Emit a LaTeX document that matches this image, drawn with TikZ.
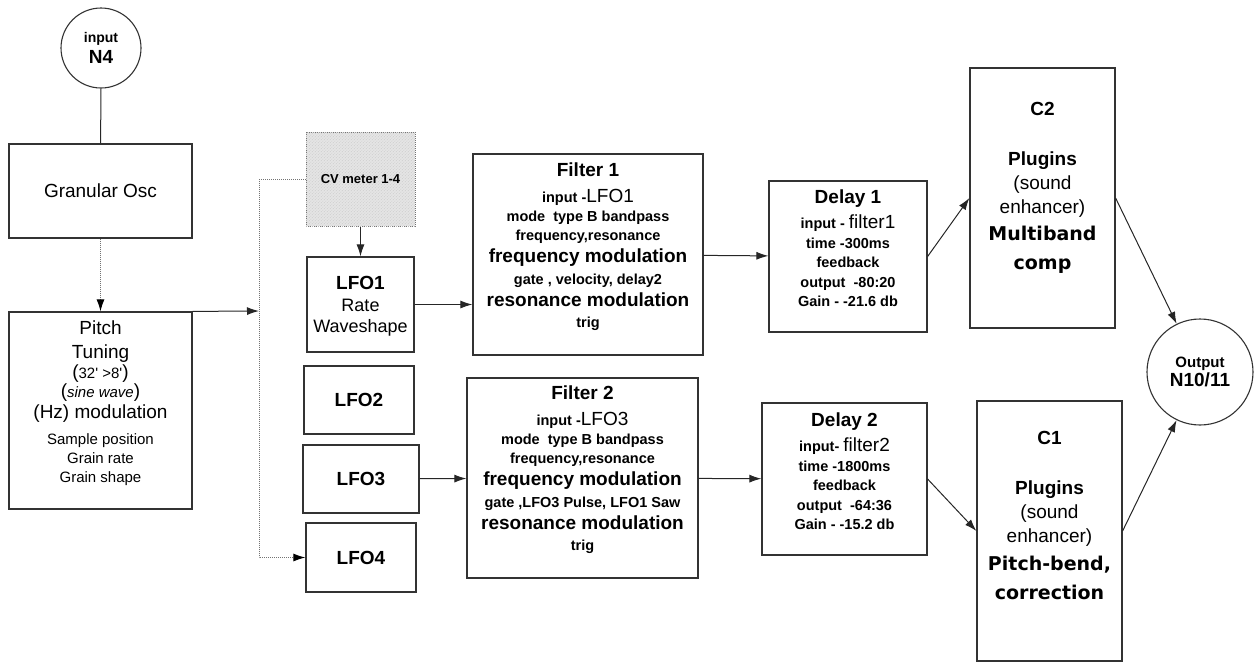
\documentclass[tikz,border=0pt]{standalone}
\usepackage{fontspec}
\setmainfont{Liberation Sans}
\newfontfamily\heavyfont{DejaVu Sans}
\usetikzlibrary{positioning, arrows.meta, patterns}
\newcommand{\fbig}{\fontsize{19}{22}\selectfont}
\newcommand{\fsml}{\fontsize{14}{18}\selectfont}
\newcommand{\fhvy}{\heavyfont\bfseries\fontsize{19}{24}\selectfont}
\newcommand{\sq}{\textquotesingle}

\begin{document}
\begin{tikzpicture}[x=1pt, y=-1pt,
    blk/.style={draw=black!80, line width=1.2pt, fill=white, inner sep=0pt, align=center},
    circ/.style={circle, draw=black!80, line width=1.1pt, fill=white, inner sep=0pt, align=center, font=\bfseries},
    cvbox/.style={draw=black!55, densely dotted, line width=1pt, fill=black!10,
                  postaction={pattern=north east lines, pattern color=black!20}, inner sep=0pt},
    txt/.style={align=center, inner sep=0pt},
    ln/.style={black!85, line width=1pt},
    arr/.style={-{Latex[length=12pt, width=8pt]}, black!85, line width=1pt},
    dotarr/.style={-{Latex[length=12pt, width=8pt, black]}, black!55, densely dotted, line width=1pt}]
    \useasboundingbox (0,0) rectangle (1254,662);

    % source column
    \node[circ, minimum size=80pt] (input) at (101,48) {{\fsml input}\\[4pt]{\fbig N4}};
    \node[blk, minimum width=183pt, minimum height=94pt, font=\fbig] (granular) at (100.5,191) {Granular Osc};
    \node[blk, minimum width=183pt, minimum height=197pt] (pitch) at (100.5,410.5) {};
    \node[txt, font=\fontsize{15}{19}\selectfont, below=9pt of pitch.north] (pitchtxt)
        {{\fbig Pitch}\\[5pt]{\fbig Tuning}\\[1pt]{\fbig(}32\sq{} >8\sq{\fbig)}\\{\fbig(}\textit{sine wave}{\fbig)}\\[2pt]
         {\fbig (Hz) modulation}\\[7pt]Sample position\\Grain rate\\Grain shape};

    % control voltage and LFOs
    \node[cvbox, minimum width=109pt, minimum height=94pt, font=\fontsize{13}{16}\selectfont\bfseries] (cvmeter) at (360.5,179) {CV meter 1-4};
    \node[blk, minimum width=107pt, minimum height=95pt] (lfoone) at (360.5,304.5) {};
    \node[txt, font=\fontsize{18}{21}\selectfont, below=20pt of lfoone.north] (lfoonetxt)
        {{\fbig\bfseries LFO1}\\[1pt]Rate\\Waveshape};
    \node[blk, minimum width=110pt, minimum height=68pt, font=\fbig\bfseries] (lfotwo) at (359,400) {LFO2};
    \node[blk, minimum width=116pt, minimum height=68pt, font=\fbig\bfseries] (lfothree) at (361,479) {LFO3};
    \node[blk, minimum width=110pt, minimum height=69pt, font=\fbig\bfseries] (lfofour) at (361,557.5) {LFO4};

    % filters
    \node[blk, minimum width=230pt, minimum height=201pt] (filterone) at (588,254.5) {};
    \node[txt, font=\fontsize{14.5}{19}\selectfont\bfseries, below=9pt of filterone.north] (filteronetxt)
        {{\fbig Filter 1}\\[7pt]input -{\fbig\mdseries LFO1}\\mode\ \ type B bandpass\\frequency,resonance\\[3pt]
         {\fbig frequency modulation}\\[3pt]gate , velocity, delay2\\[3pt]{\fbig resonance modulation}\\[2pt]trig};
    \node[blk, minimum width=231pt, minimum height=200pt] (filtertwo) at (582.5,478) {};
    \node[txt, font=\fontsize{14.5}{19}\selectfont\bfseries, below=8pt of filtertwo.north] (filtertwotxt)
        {{\fbig Filter 2}\\[7pt]input -{\fbig\mdseries LFO3}\\mode\ \ type B bandpass\\frequency,resonance\\[3pt]
         {\fbig frequency modulation}\\[3pt]gate ,LFO3 Pulse, LFO1 Saw\\[3pt]{\fbig resonance modulation}\\[2pt]trig};

    % delays
    \node[blk, minimum width=158pt, minimum height=151pt] (delayone) at (848,256.5) {};
    \node[txt, font=\fontsize{14.5}{19.5}\selectfont\bfseries, below=9pt of delayone.north] (delayonetxt)
        {{\fbig Delay 1}\\[6pt]input - {\fbig\mdseries filter1}\\time -300ms\\feedback\\output\ \ -80:20\\Gain - -21.6 db};
    \node[blk, minimum width=165pt, minimum height=152pt] (delaytwo) at (844.5,479) {};
    \node[txt, font=\fontsize{14.5}{19.5}\selectfont\bfseries, below=10pt of delaytwo.north] (delaytwotxt)
        {{\fbig Delay 2}\\[6pt]input- {\fbig\mdseries filter2}\\time -1800ms\\feedback\\output\ \ -64:36\\Gain - -15.2 db};

    % plugins
    \node[blk, minimum width=145pt, minimum height=260pt] (ctwo) at (1042.5,198) {};
    \node[txt, font=\fontsize{19}{24}\selectfont, below=35pt of ctwo.north] (ctwotxt)
        {\textbf{C2}\\[26pt]\textbf{Plugins}\\(sound\\enhancer)\\[3pt]{\fhvy Multiband}\\[5pt]{\fhvy comp}};
    \node[blk, minimum width=145pt, minimum height=260pt] (cone) at (1049.5,531) {};
    \node[txt, font=\fontsize{19}{24}\selectfont, below=31pt of cone.north] (conetxt)
        {\textbf{C1}\\[26pt]\textbf{Plugins}\\(sound\\enhancer)\\[4pt]{\fhvy Pitch-bend,}\\[5pt]{\fhvy correction}};
    \node[circ, minimum size=106pt] (output) at (1200,372) {{\fontsize{15}{18}\selectfont Output}\\[2pt]{\fbig N10/11}};

    % connectors
    \coordinate (busjoin) at (259,311);
    \draw[ln] (input) -- (granular);
    \draw[dotarr] (granular) -- (pitch);
    \draw[arr] (pitch.north east) -- (busjoin);
    \draw[dotarr] (cvmeter.west) -| (busjoin) |- (lfofour.west);
    \draw[arr] (cvmeter) -- (lfoone);
    \draw[arr] (lfoone.east) -- (lfoone.east -| filterone.west);
    \draw[arr] (filterone) -- (delayone);
    \draw[arr] (delayone.east) -- (ctwo.west);
    \draw[arr] (ctwo.east) -- (output);
    \draw[arr] (lfothree) -- (filtertwo);
    \draw[arr] (filtertwo) -- (delaytwo);
    \draw[arr] (delaytwo.east) -- (cone.west);
    \draw[arr] (cone.east) -- (output);
\end{tikzpicture}
\end{document}
